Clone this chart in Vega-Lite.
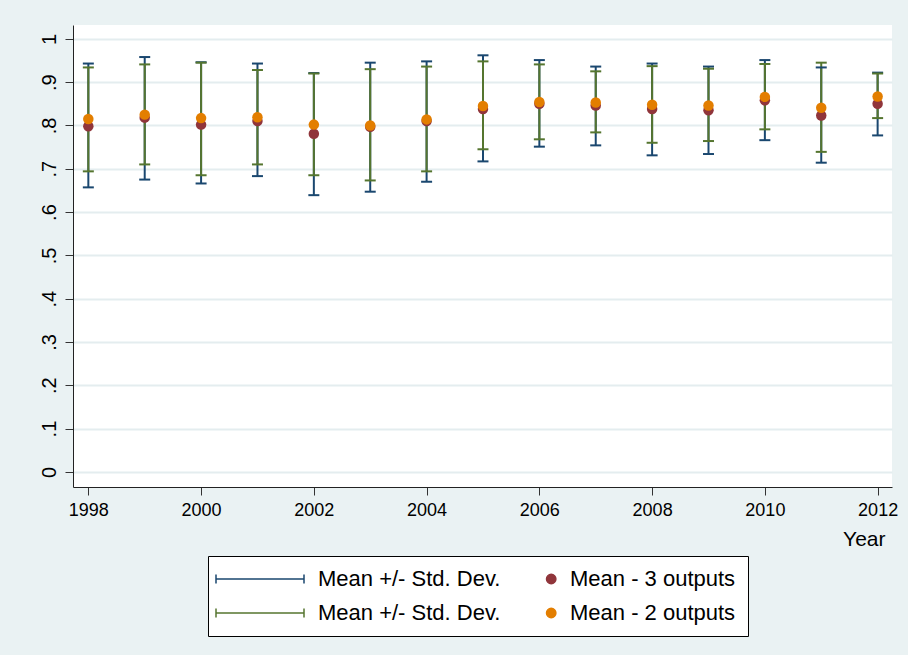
{
  "$schema": "https://vega.github.io/schema/vega-lite/v6.json",
  "width": 819,
  "height": 462,
  "autosize": {"type": "none"},
  "padding": {"left": 73, "top": 25, "right": 16, "bottom": 168},
  "background": "#EAF2F3",
  "config": {
    "font": "Liberation Sans",
    "view": {"fill": "#ffffff", "stroke": null},
    "axis": {"labelColor": "#000000", "titleColor": "#000000", "domainColor": "#222222", "tickColor": "#333333", "domainWidth": 1, "tickWidth": 1, "tickSize": 8}
  },
  "datasets": {
    "sd": [
      {"year": 1998, "series": "sd3", "lo": 0.657, "hi": 0.943},
      {"year": 1999, "series": "sd3", "lo": 0.675, "hi": 0.958},
      {"year": 2000, "series": "sd3", "lo": 0.666, "hi": 0.946},
      {"year": 2001, "series": "sd3", "lo": 0.683, "hi": 0.943},
      {"year": 2002, "series": "sd3", "lo": 0.639, "hi": 0.921},
      {"year": 2003, "series": "sd3", "lo": 0.647, "hi": 0.945},
      {"year": 2004, "series": "sd3", "lo": 0.670, "hi": 0.948},
      {"year": 2005, "series": "sd3", "lo": 0.717, "hi": 0.962},
      {"year": 2006, "series": "sd3", "lo": 0.751, "hi": 0.951},
      {"year": 2007, "series": "sd3", "lo": 0.754, "hi": 0.936},
      {"year": 2008, "series": "sd3", "lo": 0.731, "hi": 0.943},
      {"year": 2009, "series": "sd3", "lo": 0.734, "hi": 0.936},
      {"year": 2010, "series": "sd3", "lo": 0.766, "hi": 0.951},
      {"year": 2011, "series": "sd3", "lo": 0.714, "hi": 0.934},
      {"year": 2012, "series": "sd3", "lo": 0.777, "hi": 0.922},
      {"year": 1998, "series": "sd2", "lo": 0.694, "hi": 0.934},
      {"year": 1999, "series": "sd2", "lo": 0.710, "hi": 0.941},
      {"year": 2000, "series": "sd2", "lo": 0.685, "hi": 0.945},
      {"year": 2001, "series": "sd2", "lo": 0.710, "hi": 0.928},
      {"year": 2002, "series": "sd2", "lo": 0.685, "hi": 0.920},
      {"year": 2003, "series": "sd2", "lo": 0.673, "hi": 0.930},
      {"year": 2004, "series": "sd2", "lo": 0.694, "hi": 0.936},
      {"year": 2005, "series": "sd2", "lo": 0.745, "hi": 0.948},
      {"year": 2006, "series": "sd2", "lo": 0.768, "hi": 0.941},
      {"year": 2007, "series": "sd2", "lo": 0.784, "hi": 0.925},
      {"year": 2008, "series": "sd2", "lo": 0.760, "hi": 0.937},
      {"year": 2009, "series": "sd2", "lo": 0.764, "hi": 0.931},
      {"year": 2010, "series": "sd2", "lo": 0.791, "hi": 0.942},
      {"year": 2011, "series": "sd2", "lo": 0.739, "hi": 0.945},
      {"year": 2012, "series": "sd2", "lo": 0.817, "hi": 0.920}
    ],
    "means": [
      {"year": 1998, "series": "m3", "mean": 0.798},
      {"year": 1999, "series": "m3", "mean": 0.818},
      {"year": 2000, "series": "m3", "mean": 0.802},
      {"year": 2001, "series": "m3", "mean": 0.810},
      {"year": 2002, "series": "m3", "mean": 0.781},
      {"year": 2003, "series": "m3", "mean": 0.797},
      {"year": 2004, "series": "m3", "mean": 0.810},
      {"year": 2005, "series": "m3", "mean": 0.838},
      {"year": 2006, "series": "m3", "mean": 0.850},
      {"year": 2007, "series": "m3", "mean": 0.846},
      {"year": 2008, "series": "m3", "mean": 0.838},
      {"year": 2009, "series": "m3", "mean": 0.835},
      {"year": 2010, "series": "m3", "mean": 0.858},
      {"year": 2011, "series": "m3", "mean": 0.823},
      {"year": 2012, "series": "m3", "mean": 0.850},
      {"year": 1998, "series": "m2", "mean": 0.815},
      {"year": 1999, "series": "m2", "mean": 0.825},
      {"year": 2000, "series": "m2", "mean": 0.817},
      {"year": 2001, "series": "m2", "mean": 0.819},
      {"year": 2002, "series": "m2", "mean": 0.802},
      {"year": 2003, "series": "m2", "mean": 0.800},
      {"year": 2004, "series": "m2", "mean": 0.814},
      {"year": 2005, "series": "m2", "mean": 0.845},
      {"year": 2006, "series": "m2", "mean": 0.854},
      {"year": 2007, "series": "m2", "mean": 0.853},
      {"year": 2008, "series": "m2", "mean": 0.848},
      {"year": 2009, "series": "m2", "mean": 0.846},
      {"year": 2010, "series": "m2", "mean": 0.866},
      {"year": 2011, "series": "m2", "mean": 0.841},
      {"year": 2012, "series": "m2", "mean": 0.867}
    ]
  },
  "layer": [
    {
      "data": {"name": "sd"},
      "mark": {"type": "rule", "strokeWidth": 2},
      "encoding": {
        "x": {"field": "year", "type": "quantitative",
          "scale": {"domain": [1997.728, 2012.255], "nice": false, "zero": false},
          "axis": {"values": [1998, 2000, 2002, 2004, 2006, 2008, 2010, 2012], "format": "d", "grid": false,
            "labelFontSize": 18, "labelPadding": 6, "title": "Year", "titleFontSize": 21, "titleFontWeight": "normal",
            "titleX": 812, "titleY": 58, "titleAlign": "right", "titleBaseline": "alphabetic", "titleAnchor": "end"}},
        "y": {"field": "lo", "type": "quantitative",
          "scale": {"domain": [-0.035, 1.032], "nice": false, "zero": false},
          "axis": {"values": [0, 0.1, 0.2, 0.3, 0.4, 0.5, 0.6, 0.7, 0.8, 0.9, 1],
            "labelExpr": "datum.value == 0 ? '0' : (datum.value == 1 ? '1' : replace(format(datum.value, '.1f'), '0.', '.'))",
            "labelAngle": 270, "labelAlign": "center", "labelBaseline": "alphabetic", "labelFontSize": 20, "labelPadding": 10,
            "grid": true, "gridColor": "#E4EDEF", "gridWidth": 2, "title": null}},
        "y2": {"field": "hi"},
        "color": {"field": "series", "type": "nominal",
          "scale": {"domain": ["sd3", "sd2", "m3", "m2"], "range": ["#1A476F", "#55752F", "#90353B", "#E37E00"]},
          "legend": {
            "orient": "none", "legendX": 135, "legendY": 531, "title": null, "columns": 2,
            "columnPadding": 0, "rowPadding": 12, "padding": 12,
            "strokeColor": "#000000", "fillColor": "#ffffff",
            "labelFontSize": 22, "labelColor": "#000000", "labelOffset": 47, "labelLimit": 400,
            "symbolSize": 400, "symbolStrokeWidth": 1.5,
            "labelExpr": "datum.value == 'sd3' || datum.value == 'sd2' ? 'Mean +/- Std. Dev.' : (datum.value == 'm3' ? 'Mean - 3 outputs' : 'Mean - 2 outputs')",
            "encode": {
              "labels": {
                "update": {
                  "dx": {"signal": "datum.value == 'sd3' || datum.value == 'sd2' ? 29 : 0"}
                }
              },
              "symbols": {
                "update": {
                  "shape": {"signal": "datum.value == 'sd3' || datum.value == 'sd2' ? 'M-1.5,0L7.3,0M-1.5,-0.45L-1.5,0.45M7.3,-0.45L7.3,0.45' : 'M3.45,0A0.47,0.47,0,1,1,4.39,0A0.47,0.47,0,1,1,3.45,0Z'"},
                  "stroke": {"signal": "datum.value == 'sd3' ? '#1A476F' : (datum.value == 'sd2' ? '#55752F' : 'transparent')"},
                  "fill": {"signal": "datum.value == 'm3' ? '#90353B' : (datum.value == 'm2' ? '#E37E00' : 'transparent')"},
                  "strokeWidth": {"value": 1.5},
                  "opacity": {"value": 1}
                }
              }
            }
          }}
      }
    },
    {
      "data": {"name": "sd"},
      "mark": {"type": "tick", "orient": "horizontal", "size": 11, "thickness": 2, "opacity": 1},
      "encoding": {
        "x": {"field": "year", "type": "quantitative"},
        "y": {"field": "lo", "type": "quantitative"},
        "color": {"field": "series", "type": "nominal"}
      }
    },
    {
      "data": {"name": "sd"},
      "mark": {"type": "tick", "orient": "horizontal", "size": 11, "thickness": 2, "opacity": 1},
      "encoding": {
        "x": {"field": "year", "type": "quantitative"},
        "y": {"field": "hi", "type": "quantitative"},
        "color": {"field": "series", "type": "nominal"}
      }
    },
    {
      "data": {"name": "means"},
      "mark": {"type": "point", "filled": true, "size": 110, "opacity": 1, "shape": "circle"},
      "encoding": {
        "x": {"field": "year", "type": "quantitative"},
        "y": {"field": "mean", "type": "quantitative"},
        "color": {"field": "series", "type": "nominal"}
      }
    }
  ]
}
